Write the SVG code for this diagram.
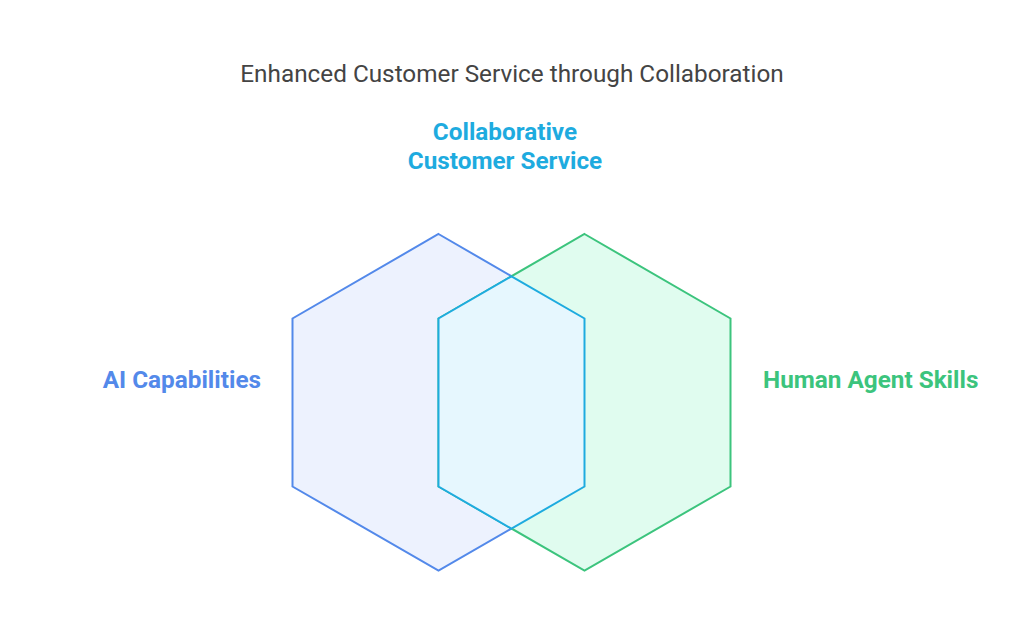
<svg xmlns="http://www.w3.org/2000/svg" width="1024" height="644" viewBox="0 0 1024 644">
<style>
.t{font-family:Roboto,"Liberation Sans",sans-serif}
.title{font-size:24.3px;fill:#444444}
.lbl{font-size:24.3px;font-weight:bold}
.hex{stroke-width:2;stroke-linejoin:miter}
</style>
<rect width="1024" height="644" fill="#ffffff"/>
<text class="t title" x="512" y="81.5" text-anchor="middle">Enhanced Customer Service through Collaboration</text>
<g id="ai">
<polygon class="hex" points="438.5,234 584.5,318.5 584.5,486.5 438.5,570.5 292.5,486.5 292.5,318.5" fill="#edf2fe" stroke="#5389ea"/>
<text class="t lbl" x="261" y="388" text-anchor="end" fill="#5389ea">AI Capabilities</text>
</g>
<g id="human">
<polygon class="hex" points="584.5,234 730.5,318.5 730.5,486.5 584.5,570.5 438.5,486.5 438.5,318.5" fill="#e0fcef" stroke="#3cc47d"/>
<text class="t lbl" x="763" y="388" fill="#3cc47d">Human Agent Skills</text>
</g>
<g id="collab">
<polygon class="hex" points="511.5,276.3 584.5,318.5 584.5,486.5 511.5,528.7 438.5,486.5 438.5,318.5" fill="#e6f7fe" stroke="#1eabdf"/>
<text class="t lbl" x="505" y="140" text-anchor="middle" fill="#1eabdf">Collaborative</text>
<text class="t lbl" x="505" y="169" text-anchor="middle" fill="#1eabdf">Customer Service</text>
</g>
<g id="connectors"></g>
</svg>
